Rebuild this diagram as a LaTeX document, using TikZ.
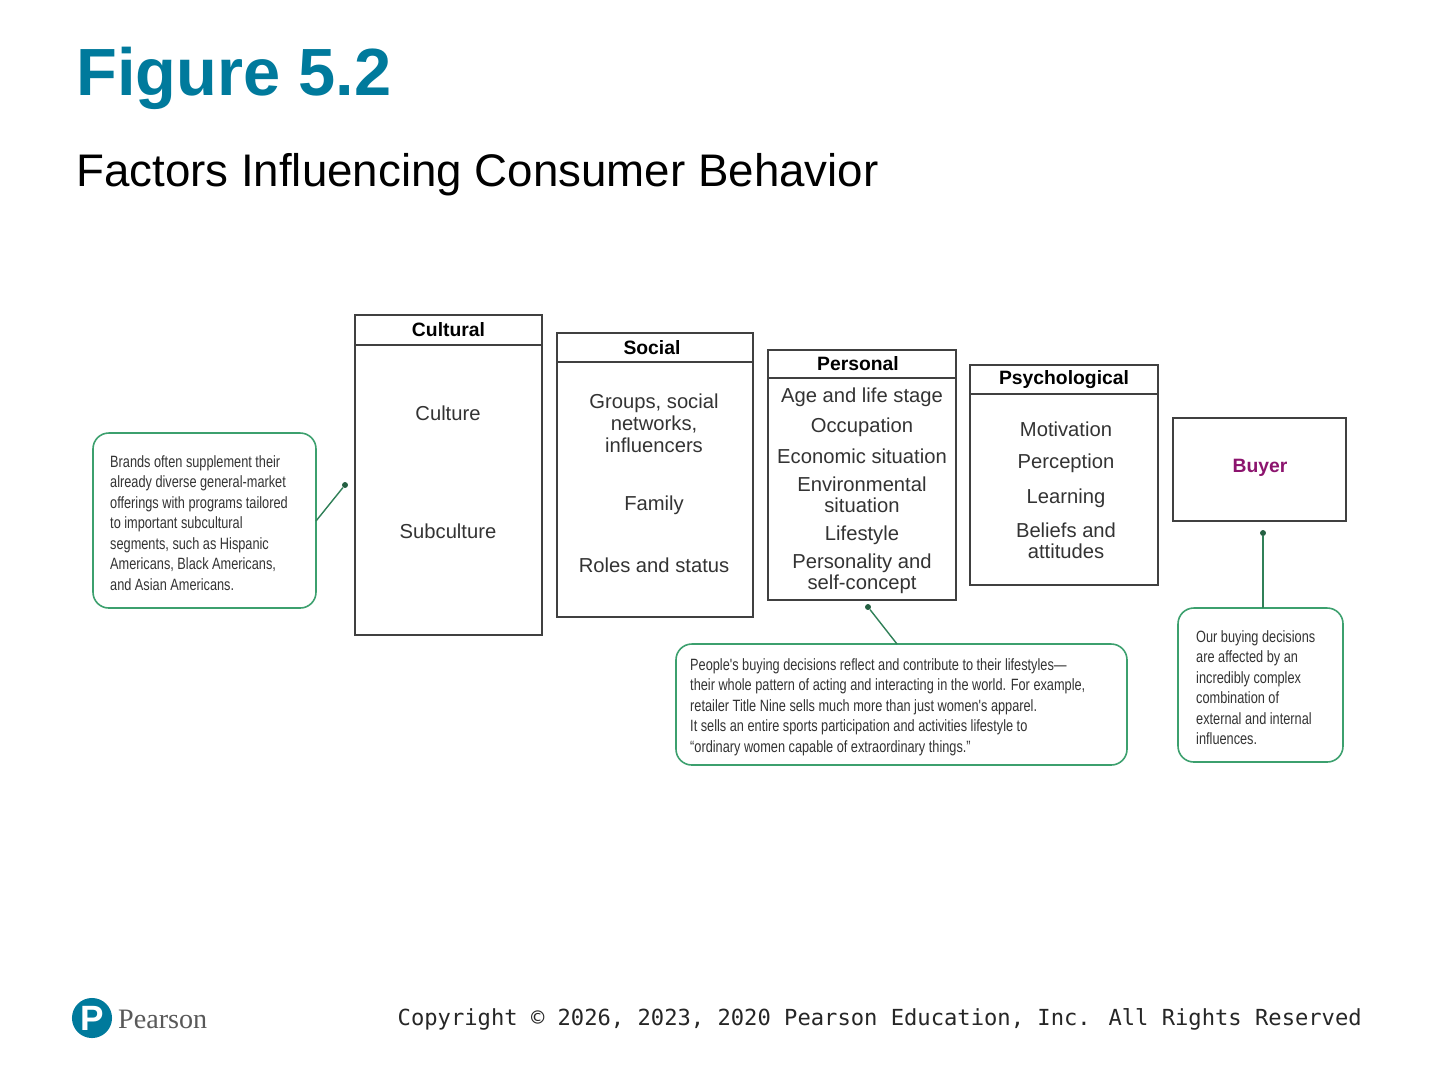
\documentclass[tikz,border=0pt]{standalone}
\usepackage{fontspec}
\setmainfont{Liberation Sans}
\newfontfamily\narrowf[FakeStretch=0.78]{Liberation Sans}
\newfontfamily\monof{DejaVu Sans Mono}
\newfontfamily\serf{Liberation Serif}
\definecolor{teal}{RGB}{0,122,156}
\definecolor{cgreen}{RGB}{60,160,110}
\definecolor{buyer}{RGB}{140,20,110}
\begin{document}
\begin{tikzpicture}[x=0.02cm,y=-0.02cm,
  fbox/.style={draw=black!75,line width=0.8pt},
  hdr/.style={font=\fontsize{11}{12}\selectfont\bfseries},
  itm/.style={font=\fontsize{11.5}{12}\selectfont,text=black!80,align=center},
  callout/.style={draw=cgreen,line width=0.9pt,rounded corners=9pt},
  ctext/.style={font=\narrowf\fontsize{9.3}{11.7}\selectfont,text=black!80,align=left,anchor=north west},
  conn/.style={draw=cgreen!80!black,line width=0.8pt},
  dot/.style={circle,fill=cgreen!60!black,inner sep=1.2pt}]
\useasboundingbox (0,0) rectangle (1440,1080);
\fill[white] (0,0) rectangle (1440,1080);
\node[anchor=west,text=teal,font=\fontsize{38}{40}\selectfont\bfseries] (title) at (70,78) {Figure 5.2};
\node[anchor=west,font=\fontsize{26}{28}\selectfont] (sub) at (70,175) {Factors Influencing Consumer Behavior};
% Cultural
\draw[fbox] (355,315) rectangle (542,635); \draw[fbox] (355,345) -- (542,345);
\node[hdr] (hc) at (448.5,330) {Cultural};
\node[itm] (c1) at (448,413) {Culture};
\node[itm] (c2) at (448,531) {Subculture};
% Social
\draw[fbox] (557,333) rectangle (753,617); \draw[fbox] (557,362) -- (753,362);
\node[hdr] (hs) at (652,348) {Social};
\node[itm,font=\fontsize{11.5}{12.5}\selectfont] (s1) at (654,423) {Groups, social\\networks,\\influencers};
\node[itm] (s2) at (654,505) {Family};
\node[itm] (s3) at (654,565) {Roles and status};
% Personal
\draw[fbox] (768,350) rectangle (956,600); \draw[fbox] (768,378) -- (956,378);
\node[hdr] (hp) at (858,364) {Personal};
\node[itm] (p1) at (862,397) {Age and life stage};
\node[itm] (p2) at (862,427) {Occupation};
\node[itm] (p3) at (862,456) {Economic situation};
\node[itm,font=\fontsize{11.5}{12}\selectfont] (p4) at (862,495) {Environmental\\situation};
\node[itm] (p5) at (862,535) {Lifestyle};
\node[itm,font=\fontsize{11.5}{12}\selectfont] (p6) at (862,574) {Personality and\\self-concept};
% Psychological
\draw[fbox] (970,365) rectangle (1158,585); \draw[fbox] (970,394) -- (1158,394);
\node[hdr] (hy) at (1064,380) {Psychological};
\node[itm] (y1) at (1066,429) {Motivation};
\node[itm] (y2) at (1066,463) {Perception};
\node[itm] (y3) at (1066,498) {Learning};
\node[itm,font=\fontsize{11.5}{12}\selectfont] (y4) at (1066,541) {Beliefs and\\attitudes};
% Buyer
\draw[fbox] (1173,418) rectangle (1346,521);
\node[font=\fontsize{11}{12}\selectfont\bfseries,text=buyer] (b) at (1260,468) {Buyer};
% callouts
\draw[callout] (93,433) rectangle (316,608);
\node[ctext] (t1) at (104,449) {Brands often supplement their\\already diverse general-market\\offerings with programs tailored\\to important subcultural\\segments, such as Hispanic\\Americans, Black Americans,\\and Asian Americans.};
\draw[callout] (676,644) rectangle (1127,765);
\node[ctext] (t2) at (684,652) {People's buying decisions reflect and contribute to their lifestyles—\\their whole pattern of acting and interacting in the world. For example,\\retailer Title Nine sells much more than just women's apparel.\\It sells an entire sports participation and activities lifestyle to\\“ordinary women capable of extraordinary things.”};
\draw[callout] (1178,608) rectangle (1343,762);
\node[ctext] (t3) at (1190,624) {Our buying decisions\\are affected by an\\incredibly complex\\combination of\\external and internal\\influences.};
% connectors
\coordinate (a1) at (316,521); \node[dot] (d1) at (345,485) {};
\draw[conn] (a1) -- (d1);
\coordinate (a2) at (897,644); \node[dot] (d2) at (868,607) {};
\draw[conn] (a2) -- (d2);
\coordinate (a3) at (1263,608); \node[dot] (d3) at (1263,533) {};
\draw[conn] (a3) -- (d3);
% footer
\node[circle,fill=teal,minimum size=40pt*0.57,inner sep=0pt,text=white,font=\fontsize{20}{20}\selectfont\bfseries] (logo) at (92,1018) {P};
\node[anchor=west,text=black!65,font=\serf\fontsize{16}{16}\selectfont] (pear) at (112,1019) {Pearson};
\node[anchor=east,text=black!85,font=\monof\fontsize{12.6}{13}\selectfont] (copy) at (1368,1019) {Copyright © 2026, 2023, 2020 Pearson Education, Inc. All Rights Reserved};
\end{tikzpicture}
\end{document}
